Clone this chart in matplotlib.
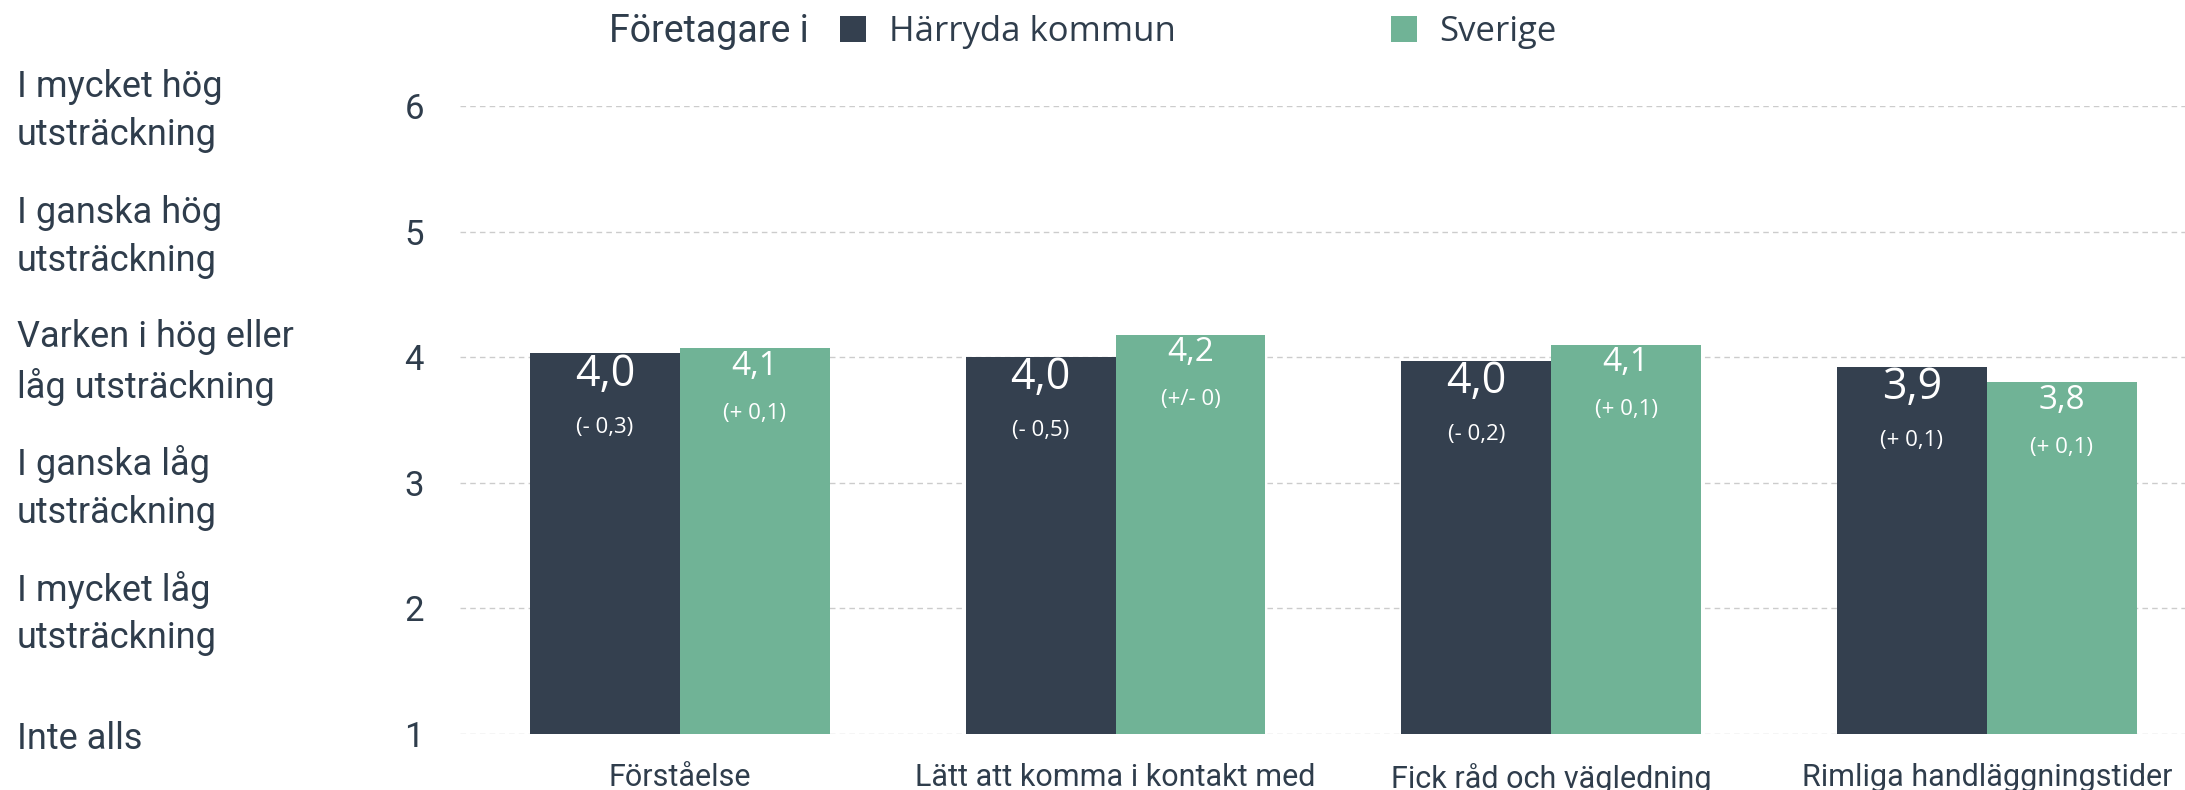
import matplotlib.pyplot as plt
import matplotlib.transforms as mtransforms
import numpy as np

# data
categories = ['Förståelse', 'Lätt att komma i kontakt med', 'Fick råd och vägledning', 'Rimliga handläggningstider']
harryda = [4.03, 4.00, 3.97, 3.92]
sverige = [4.07, 4.18, 4.10, 3.80]
harryda_labels = ['4,0', '4,0', '4,0', '3,9']
sverige_labels = ['4,1', '4,2', '4,1', '3,8']
harryda_change = ['(- 0,3)', '(- 0,5)', '(- 0,2)', '(+ 0,1)']
sverige_change = ['(+ 0,1)', '(+/- 0)', '(+ 0,1)', '(+ 0,1)']
scale_ticks = [1, 2, 3, 4, 5, 6]
scale_labels = ['Inte alls', 'I mycket låg\nutsträckning', 'I ganska låg\nutsträckning',
                'Varken i hög eller\nlåg utsträckning', 'I ganska hög\nutsträckning',
                'I mycket hög\nutsträckning']

dark = '#34404f'
green = '#70b396'
txt = '#2f3d4c'

plt.rcParams['font.family'] = ['Open Sans', 'DejaVu Sans']
narrow = ['Roboto', 'DejaVu Sans']

fig = plt.figure(figsize=(21.85, 7.90), dpi=100)
ax = fig.add_axes([460 / 2185, 56 / 790, 1 - 460 / 2185, (734 - 106) / 790])

x = np.arange(len(categories))
w = 0.344
b1 = ax.bar(x - w / 2, np.array(harryda) - 1, w, bottom=1, color=dark, label='Härryda kommun', zorder=3)
b2 = ax.bar(x + w / 2, np.array(sverige) - 1, w, bottom=1, color=green, label='Sverige', zorder=3)

for i in range(len(categories)):
    ax.annotate(harryda_labels[i], (x[i] - w / 2, harryda[i]), xytext=(0, -15), textcoords='offset points',
                ha='center', va='center', fontsize=31, color='white', zorder=4)
    ax.annotate(harryda_change[i], (x[i] - w / 2, harryda[i]), xytext=(0, -53), textcoords='offset points',
                ha='center', va='center', fontsize=16, color='white', zorder=4)
    ax.annotate(sverige_labels[i], (x[i] + w / 2, sverige[i]), xytext=(0, -13), textcoords='offset points',
                ha='center', va='center', fontsize=24, color='white', zorder=4)
    ax.annotate(sverige_change[i], (x[i] + w / 2, sverige[i]), xytext=(0, -47), textcoords='offset points',
                ha='center', va='center', fontsize=16, color='white', zorder=4)

ax.set_xlim(-0.505, 3.455)
ax.set_ylim(1, 6)
ax.set_yticks(scale_ticks)
ax.set_yticklabels([str(t) for t in scale_ticks], fontsize=25, color=txt, family=narrow)
ax.set_xticks(x)
ax.set_xticklabels(categories, fontsize=22, color=txt, family=narrow)
ax.tick_params(axis='y', length=0, pad=26)
ax.tick_params(axis='x', length=0, pad=21)
ax.grid(axis='y', color='#cccccc', linestyle=(0, (4, 3)), linewidth=1, zorder=0)
for s in ax.spines.values():
    s.set_visible(False)

# scale descriptions on the far left
tr = mtransforms.blended_transform_factory(fig.transFigure, ax.transData)
for t, lab in zip(scale_ticks, scale_labels):
    fig.text(17 / 2185, t - 0.04, lab, transform=tr, ha='left', va='center', fontsize=26, color=txt,
             linespacing=1.42, family=narrow)

# legend
fig.text(609 / 2185, 1 - 32 / 790, 'Företagare i', ha='left', va='center', fontsize=27, color=txt,
         family=narrow)
fig.legend(handles=[b1, b2], loc='center left', bbox_to_anchor=(840 / 2185, 1 - 32 / 790), ncol=2,
           frameon=False, fontsize=25, handlelength=0.75, handleheight=0.75, handletextpad=0.65,
           columnspacing=6.2, borderpad=0, borderaxespad=0, labelcolor=txt)

fig.savefig('out.png', dpi=100)
